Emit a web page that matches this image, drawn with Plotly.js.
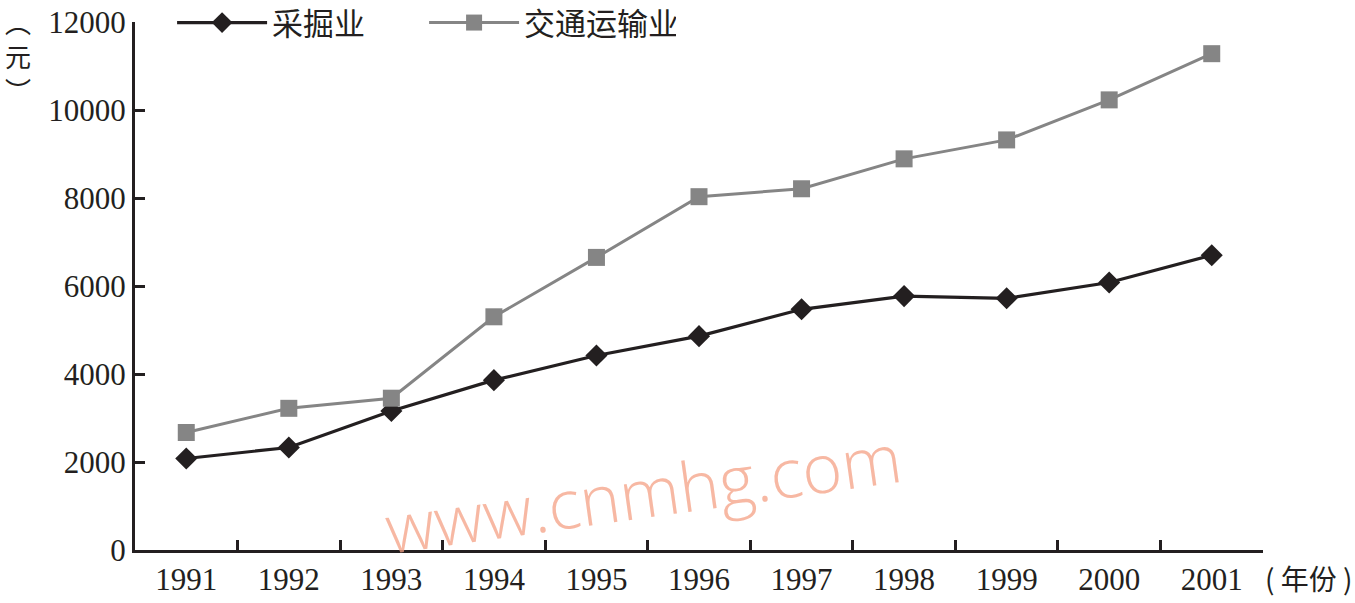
<!DOCTYPE html>
<html>
<head>
<meta charset="utf-8">
<script src="https://cdn.plot.ly/plotly-3.0.1.min.js"></script>
<style>html,body{margin:0;padding:0;background:#fff;}#chart{width:1355px;height:603px;}</style>
</head>
<body>
<div id="chart"></div>
<script>
const years = ['1991','1992','1993','1994','1995','1996','1997','1998','1999','2000','2001'];
const mining = [2080, 2330, 3160, 3860, 4420, 4860, 5470, 5770, 5720, 6080, 6700];
const transport = [2670, 3220, 3450, 5300, 6650, 8030, 8210, 8890, 9320, 10230, 11280];
const seriesNames = ['采掘业', '交通运输业'];
const yTicks = [0, 2000, 4000, 6000, 8000, 10000, 12000];

const serif = 'Liberation Serif, Times New Roman, serif';
const cjk = 'Noto Sans CJK SC, sans-serif';

const traces = [
  {
    x: years, y: mining, name: seriesNames[0], type: 'scatter', mode: 'lines+markers',
    line: {color: '#231f20', width: 3.2},
    marker: {symbol: 'diamond', size: 17, color: '#231f20'}
  },
  {
    x: years, y: transport, name: seriesNames[1], type: 'scatter', mode: 'lines+markers',
    line: {color: '#858585', width: 3},
    marker: {symbol: 'square', size: 17, color: '#858585'}
  }
];

const layout = {
  width: 1355, height: 603,
  margin: {l: 135, r: 92, t: 22, b: 53, autoexpand: false},
  paper_bgcolor: '#fff', plot_bgcolor: '#fff',
  showlegend: true,
  legend: {
    orientation: 'h', xref: 'container', yref: 'container',
    x: 0.127, y: 0.962, xanchor: 'left', yanchor: 'middle',
    font: {family: cjk, size: 31, color: '#231f20'},
    itemwidth: 90, entrywidth: 147, bgcolor: 'rgba(0,0,0,0)'
  },
  xaxis: {
    type: 'category', range: [-0.5, 10.5],
    showline: true, linecolor: '#231f20', linewidth: 3,
    ticks: 'inside', tickson: 'boundaries', ticklen: 10, tickwidth: 3, tickcolor: '#231f20',
    showgrid: false, zeroline: false,
    tickfont: {family: serif, size: 31, color: '#231f20'},
    ticklabelstandoff: 0
  },
  yaxis: {
    range: [0, 12000], tickvals: yTicks, ticktext: yTicks.map(String),
    showline: true, linecolor: '#231f20', linewidth: 3,
    ticks: 'inside', ticklen: 10, tickwidth: 3, tickcolor: '#231f20',
    showgrid: false, zeroline: false,
    tickfont: {family: serif, size: 31, color: '#231f20'}
  },
  annotations: [
    {text: '︵<br>元<br>︶', xref: 'paper', yref: 'paper', x: -0.104, y: 1.04, xanchor: 'center', yanchor: 'top',
     showarrow: false, font: {family: cjk, size: 26, color: '#231f20'}},
    {text: '( 年份 )', xref: 'paper', yref: 'paper', x: 1.0, y: -0.053, xanchor: 'left', yanchor: 'middle',
     showarrow: false, font: {family: cjk, size: 28, color: '#231f20'}},
    {text: 'www.cnmhg.com', xref: 'paper', yref: 'paper', x: 0.45, y: 0.11, xanchor: 'center', yanchor: 'middle',
     showarrow: false, textangle: -8, font: {family: 'Open Sans, sans-serif', size: 68, color: 'rgba(244,160,132,0.75)', weight: 300}}
  ]
};

Plotly.newPlot('chart', traces, layout, {displayModeBar: false, staticPlot: true});
</script>
</body>
</html>
